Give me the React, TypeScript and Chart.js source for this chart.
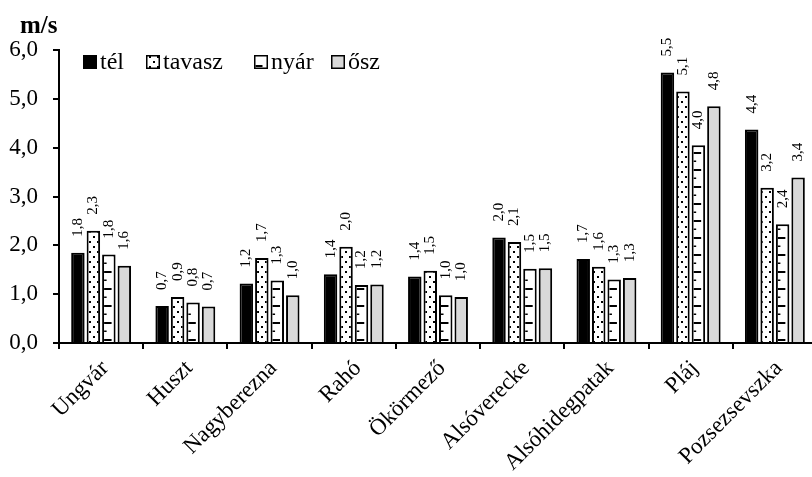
import React, { useEffect, useRef } from 'react';
import { Chart, registerables } from 'chart.js';

Chart.register(...registerables);

const categories = ['Ungvár', 'Huszt', 'Nagyberezna', 'Rahó', 'Ökörmező', 'Alsóverecke', 'Alsóhidegpatak', 'Pláj', 'Pozsezsevszka'];
const seriesNames = ['tél', 'tavasz', 'nyár', 'ősz'];

const telValues = [1.85, 0.76, 1.22, 1.41, 1.36, 2.16, 1.72, 5.54, 4.37];
const tavaszValues = [2.3, 0.94, 1.74, 1.97, 1.48, 2.07, 1.56, 5.15, 3.18];
const nyarValues = [1.81, 0.83, 1.28, 1.19, 0.98, 1.52, 1.3, 4.05, 2.43];
const oszValues = [1.58, 0.75, 0.98, 1.2, 0.94, 1.53, 1.33, 4.85, 3.39];

const telLabels = ['1,8', '0,7', '1,2', '1,4', '1,4', '2,0', '1,7', '5,5', '4,4'];
const tavaszLabels = ['2,3', '0,9', '1,7', '2,0', '1,5', '2,1', '1,6', '5,1', '3,2'];
const nyarLabels = ['1,8', '0,8', '1,3', '1,2', '1,0', '1,5', '1,3', '4,0', '2,4'];
const oszLabels = ['1,6', '0,7', '1,0', '1,2', '1,0', '1,5', '1,3', '4,8', '3,4'];

const unitLabel = 'm/s';
const yMin = 0;
const yMax = 6;
const yStep = 1;

const FONT = '"Liberation Serif", "Times New Roman", serif';
const LEGEND_X = [83, 146, 254, 331];

function makeDotPattern(ctx: CanvasRenderingContext2D): CanvasPattern | string {
  const c = document.createElement('canvas');
  c.width = 8;
  c.height = 10;
  const g = c.getContext('2d');
  if (!g) return '#ffffff';
  g.fillStyle = '#ffffff';
  g.fillRect(0, 0, 8, 10);
  g.fillStyle = '#000000';
  g.fillRect(1, 1, 2, 2);
  g.fillRect(5, 6, 2, 2);
  return ctx.createPattern(c, 'repeat') || '#ffffff';
}

export default function App() {
  const canvasRef = useRef<HTMLCanvasElement | null>(null);

  useEffect(() => {
    const canvas = canvasRef.current;
    if (!canvas) return;
    const ctx0 = canvas.getContext('2d');
    if (!ctx0) return;
    const dots = makeDotPattern(ctx0);
    const labelSets = [telLabels, tavaszLabels, nyarLabels, oszLabels];

    const rulerPlugin = {
      id: 'ruler',
      afterDatasetDraw(chart: any, args: any) {
        if (args.index !== 2) return;
        const ctx = chart.ctx;
        ctx.save();
        ctx.fillStyle = '#000';
        args.meta.data.forEach((el: any) => {
          const { x, y, base, width } = el.getProps(['x', 'y', 'base', 'width'], true);
          const left = x - width / 2 + 2;
          const inner = width - 4;
          const longLen = Math.max(inner - 2, 2);
          for (let k = 0; k < 200; k++) {
            const ty = base - 3 - 17 * k;
            if (ty < y + 3) break;
            ctx.fillRect(left, ty, longLen, 2);
            const sy = ty - 8.5;
            if (sy > y + 3) ctx.fillRect(left, sy, 2.5, 1.5);
          }
        });
        ctx.restore();
      },
    };

    const labelPlugin = {
      id: 'valueLabels',
      afterDatasetsDraw(chart: any) {
        const ctx = chart.ctx;
        ctx.save();
        ctx.font = `15px ${FONT}`;
        ctx.fillStyle = '#000';
        ctx.textAlign = 'left';
        ctx.textBaseline = 'middle';
        chart.data.datasets.forEach((_ds: any, i: number) => {
          const meta = chart.getDatasetMeta(i);
          meta.data.forEach((el: any, j: number) => {
            const { x, y } = el.getProps(['x', 'y'], true);
            ctx.save();
            ctx.translate(x, y - 16);
            ctx.rotate(-Math.PI / 2);
            ctx.fillText(labelSets[i][j], 0, 0);
            ctx.restore();
          });
        });
        ctx.restore();
      },
    };

    const legendPlugin = {
      id: 'customLegend',
      afterDraw(chart: any) {
        const ctx = chart.ctx;
        ctx.save();
        ctx.font = `24px ${FONT}`;
        ctx.textBaseline = 'middle';
        ctx.textAlign = 'left';
        const top = 55;
        const box = 14;
        chart.data.datasets.forEach((ds: any, i: number) => {
          const x = LEGEND_X[i];
          ctx.fillStyle = ds.backgroundColor;
          ctx.fillRect(x, top, box, box);
          ctx.lineWidth = 1.5;
          ctx.strokeStyle = '#000';
          ctx.strokeRect(x + 0.75, top + 0.75, box - 1.5, box - 1.5);
          if (i === 2) {
            ctx.fillStyle = '#000';
            ctx.fillRect(x + 1.5, top + box - 4, 7, 2);
          }
          ctx.fillStyle = '#000';
          ctx.fillText(ds.label, x + box + 3, top + box / 2 + 1);
        });
        ctx.font = `bold 25px ${FONT}`;
        ctx.textBaseline = 'alphabetic';
        ctx.fillText(unitLabel, 20, 33);
        ctx.restore();
      },
    };

    const chart = new Chart(canvas, {
      type: 'bar',
      data: {
        labels: categories,
        datasets: [
          { label: seriesNames[0], data: telValues, backgroundColor: '#000000', borderColor: '#000000', borderWidth: 2 },
          { label: seriesNames[1], data: tavaszValues, backgroundColor: dots as any, borderColor: '#000000', borderWidth: 2 },
          { label: seriesNames[2], data: nyarValues, backgroundColor: '#ffffff', borderColor: '#000000', borderWidth: 2 },
          { label: seriesNames[3], data: oszValues, backgroundColor: '#d9d9d9', borderColor: '#000000', borderWidth: 2 },
        ],
      },
      options: {
        responsive: false,
        maintainAspectRatio: false,
        animation: false,
        datasets: { bar: { categoryPercentage: 0.735, barPercentage: 0.87 } },
        layout: { padding: { top: 50, right: 1, left: 0, bottom: 0 } },
        plugins: { legend: { display: false }, tooltip: { enabled: false }, title: { display: false } },
        scales: {
          x: {
            offset: true,
            border: { display: true, color: '#000', width: 2 },
            grid: { display: true, drawOnChartArea: false, drawTicks: true, tickLength: 6, color: '#000', lineWidth: 2, offset: true },
            ticks: {
              autoSkip: false,
              minRotation: 45,
              maxRotation: 45,
              color: '#000',
              padding: 6,
              labelOffset: 4,
              font: { family: FONT, size: 23 },
            },
            afterFit(scale: any) {
              scale.height = 134;
            },
          },
          y: {
            min: yMin,
            max: yMax,
            border: { display: true, color: '#000', width: 2 },
            grid: { display: true, drawOnChartArea: false, drawTicks: true, tickLength: 6, color: '#000', lineWidth: 2 },
            ticks: {
              stepSize: yStep,
              color: '#000',
              padding: 15,
              font: { family: FONT, size: 23 },
              callback: (v: any) => Number(v).toFixed(1).replace('.', ','),
            },
            afterFit(scale: any) {
              scale.width = 59;
            },
          },
        },
      },
      plugins: [rulerPlugin, labelPlugin, legendPlugin],
    });

    return () => chart.destroy();
  }, []);

  return (
    <div style={{ position: 'fixed', left: 0, top: 0, width: 812, height: 477, overflow: 'hidden', background: '#fff' }}>
      <canvas ref={canvasRef} width={818} height={477} style={{ display: 'block', width: 818, height: 477 }} />
    </div>
  );
}
